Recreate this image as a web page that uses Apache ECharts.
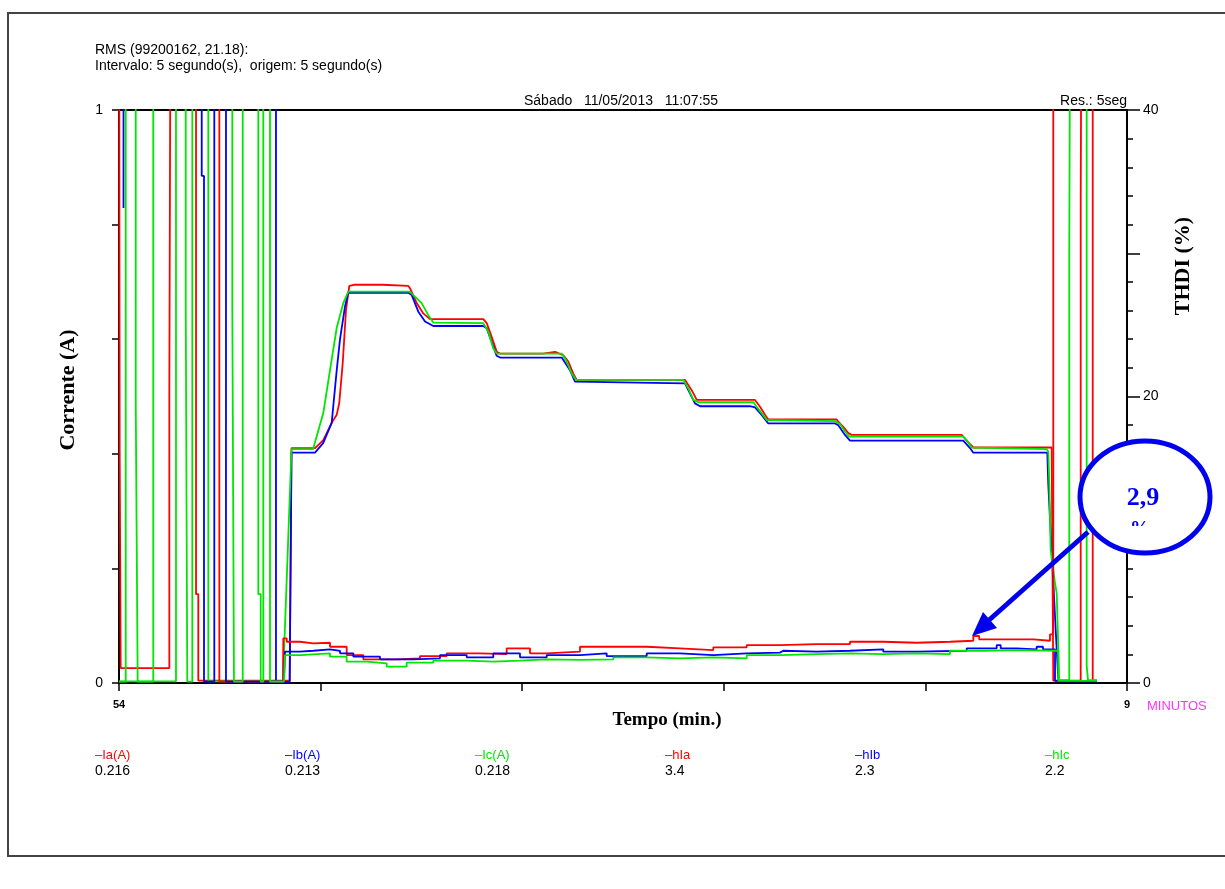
<!DOCTYPE html>
<html>
<head>
<meta charset="utf-8">
<title>RMS 99200162</title>
<script src="https://cdn.jsdelivr.net/npm/echarts@6.0.0/dist/echarts.min.js"></script>
<style>
  html, body { margin: 0; padding: 0; background: #fff; }
  #chart { width: 1225px; height: 889px; }
</style>
</head>
<body>
<div id="chart"></div>
<script>
// eixo x: minutos desde a origem (54 ... 9 => 15 min)
const xTickLabels = { 0: '54', 15: '9' }
const legendNames = ['Ia(A)', 'Ib(A)', 'Ic(A)', 'hIa', 'hIb', 'hIc']
const legendValues = ['0.216', '0.213', '0.218', '3.4', '2.3', '2.2']
const colors = ['#ff0000', '#0000ff', '#00e600', '#ff0000', '#0000ff', '#00e600']

// corrente (A) - [min, A]; valores > 1 ficam fora da escala
const ia = [
  [0, 1.5], [0.01, 1.5], [0.01, 0.408], [0.025, 0.408], [0.025, 0.026],
  [0.749, 0.026], [0.749, 0.511], [0.774, 0.511], [0.774, 1.5],
  [1.146, 1.5], [1.146, 0.155], [1.18, 0.155], [1.18, 0.004],
  [2.54, 0.004], [2.567, 0.410], [2.917, 0.410], [3.04, 0.424], [3.165, 0.454],
  [3.24, 0.468], [3.278, 0.489], [3.329, 0.558], [3.378, 0.651], [3.427, 0.693],
  [3.5, 0.695], [3.92, 0.695], [3.93, 0.693], [4.305, 0.693], [4.33, 0.689], [4.43, 0.663],
  [4.528, 0.645], [4.628, 0.635], [5.421, 0.635], [5.472, 0.628], [5.546, 0.604],
  [5.621, 0.578], [5.67, 0.575], [6.31, 0.575], [6.31, 0.578], [6.49, 0.578], [6.49, 0.575],
  [6.612, 0.572], [6.686, 0.561], [6.76, 0.540], [6.811, 0.529], [8.423, 0.529],
  [8.522, 0.511], [8.597, 0.494], [9.464, 0.494], [9.539, 0.482], [9.613, 0.468],
  [9.662, 0.460], [10.68, 0.460], [10.704, 0.456], [10.778, 0.447], [10.853, 0.436],
  [10.903, 0.433], [12.54, 0.433], [12.55, 0.436], [12.564, 0.430], [12.638, 0.420],
  [12.713, 0.411], [13.879, 0.411], [13.903, 0.004], [14.311, 0.004], [14.311, 0.834],
  [14.33, 0.834], [14.33, 1.5], [14.49, 1.5], [14.49, 0.004], [14.554, 0.004]
]
const ib = [
  [0.067, 0.829], [0.067, 1.5], [2.336, 1.5], [2.336, 0.002], [2.54, 0.002],
  [2.567, 0.402], [2.917, 0.402], [3.04, 0.419], [3.165, 0.454], [3.24, 0.546],
  [3.289, 0.600], [3.363, 0.657], [3.412, 0.681], [4.305, 0.681], [4.356, 0.677],
  [4.454, 0.648], [4.554, 0.631], [4.677, 0.623], [5.421, 0.623], [5.472, 0.619],
  [5.57, 0.587], [5.621, 0.571], [5.67, 0.568], [6.588, 0.568], [6.711, 0.546],
  [6.786, 0.526], [6.811, 0.523], [8.423, 0.523], [8.472, 0.511], [8.571, 0.488],
  [8.646, 0.483], [9.39, 0.483], [9.464, 0.481], [9.563, 0.468], [9.662, 0.453],
  [10.655, 0.453], [10.704, 0.450], [10.804, 0.433], [10.878, 0.423], [12.564, 0.423],
  [12.589, 0.421], [12.664, 0.410], [12.713, 0.402], [13.814, 0.402], [13.829, 0.346],
  [13.854, 0.287], [13.879, 0.232], [13.929, 0.116], [13.954, 0.058], [13.98, 0.003],
  [14.554, 0.003]
]
const ic = [
  [0, 0.003], [0.848, 0.003], [0.848, 1.5], [1.329, 1.5], [1.329, 0.003],
  [2.44, 0.003], [2.567, 0.408], [2.887, 0.408], [3.04, 0.471], [3.14, 0.546],
  [3.24, 0.620], [3.338, 0.663], [3.412, 0.683], [4.33, 0.683], [4.379, 0.677],
  [4.504, 0.663], [4.603, 0.642], [4.677, 0.629], [5.421, 0.628], [5.496, 0.613],
  [5.57, 0.584], [5.621, 0.575], [6.588, 0.575], [6.662, 0.561], [6.737, 0.540],
  [6.801, 0.529], [8.397, 0.529], [8.472, 0.514], [8.546, 0.494], [8.621, 0.490],
  [9.44, 0.490], [9.489, 0.482], [9.563, 0.471], [9.638, 0.459], [9.662, 0.457],
  [10.655, 0.457], [10.729, 0.452], [10.804, 0.439], [10.868, 0.430], [12.564, 0.430],
  [12.614, 0.424], [12.689, 0.411], [12.713, 0.408], [13.805, 0.408], [13.829, 0.404],
  [13.844, 0.349], [13.864, 0.232], [13.929, 0.174], [13.954, 0.157], [13.978, 0.058],
  [13.99, 0.005], [14.141, 0.005], [14.141, 0.75], [14.162, 0.75], [14.162, 1.5],
  [14.40, 1.5], [14.40, 0.03], [14.42, 0.03], [14.42, 0.005], [14.554, 0.005]
]

// THDI (%) - [min, %]; valores > 40 ficam fora da escala
const hia = [
  [0, 100], [1.493, 100], [1.493, 0.1], [2.44, 0.1], [2.445, 3.12], [2.496, 2.88],
  [2.693, 2.77], [2.892, 2.81], [3.14, 2.53], [3.388, 1.95], [3.636, 1.65], [3.884, 1.65],
  [4.132, 1.72], [4.479, 1.88], [4.876, 2.07], [5.372, 2.02], [5.769, 2.42], [6.116, 2.07],
  [6.365, 2.19], [6.86, 2.53], [7.356, 2.53], [7.853, 2.42], [8.348, 2.30], [8.844, 2.49],
  [9.341, 2.65], [9.836, 2.72], [10.382, 2.72], [10.878, 2.88], [11.373, 2.81],
  [11.871, 2.88], [12.366, 2.95], [12.713, 3.28], [12.8, 3.05], [13.11, 3.05],
  [13.606, 2.95], [13.854, 3.4], [13.903, 100], [14.6, 100]
]
const hib = [
  [0, 100], [1.231, 100], [1.231, 35.4], [1.265, 35.4], [1.265, 0.1], [1.418, 0.1],
  [1.418, 100], [1.592, 100], [1.592, 0.1], [2.455, 0.1], [2.47, 2.19], [2.693, 2.25],
  [2.892, 2.35], [3.14, 2.25], [3.289, 2.07], [3.487, 1.84], [3.884, 1.65], [4.38, 1.72],
  [4.777, 1.95], [5.174, 1.79], [5.57, 2.07], [5.967, 1.79], [6.365, 1.95], [6.86, 2.07],
  [7.257, 1.88], [7.853, 2.07], [8.348, 1.95], [8.844, 2.07], [9.341, 2.12], [9.836, 2.25],
  [9.885, 2.19], [10.382, 2.25], [10.878, 2.35], [11.373, 2.19], [11.871, 2.25],
  [12.615, 2.42], [13.061, 2.65], [13.12, 2.42], [13.359, 2.35], [13.656, 2.53],
  [13.75, 2.35], [13.929, 0.15], [14.554, 0.15]
]
const hic = [
  [0, 0.1], [0.1, 0.1], [0.1, 100], [0.249, 100], [0.249, 19.6], [0.278, 19.6],
  [0.278, 0.1], [0.51, 0.1], [0.51, 100], [0.993, 100], [0.993, 26.3], [1.016, 26.3],
  [1.016, 0.1], [1.091, 0.1], [1.091, 100], [1.686, 100], [1.686, 26.5], [1.711, 26.5],
  [1.711, 0.1], [1.841, 0.1], [1.841, 100], [2.073, 100], [2.073, 6.2], [2.109, 6.2],
  [2.109, 0.1], [2.147, 0.1], [2.147, 100], [2.247, 100], [2.247, 0.1], [2.455, 0.1],
  [2.47, 1.95], [2.693, 2.07], [3.14, 1.84], [3.388, 1.49], [3.686, 1.37], [3.984, 1.14],
  [4.281, 1.42], [4.677, 1.56], [5.174, 1.49], [5.57, 1.56], [5.967, 1.65], [6.365, 1.61],
  [6.86, 1.65], [7.356, 1.79], [7.853, 1.72], [8.348, 1.79], [8.844, 1.72], [9.341, 1.95],
  [9.836, 2.02], [10.382, 2.07], [10.878, 2.02], [11.373, 2.07], [11.871, 2.02],
  [12.366, 2.25], [12.862, 2.30], [13.359, 2.25], [13.978, 0.15], [14.554, 0.15]
]

const sans = '"Liberation Sans", Arial, sans-serif'
const serif = '"Liberation Serif", "Times New Roman", serif'

const chart = echarts.init(document.getElementById('chart'))

function lineSeries(name, data, color, axis, step) {
  return {
    name: name,
    type: 'line',
    data: data,
    yAxisIndex: axis,
    step: step ? 'end' : false,
    showSymbol: false,
    clip: true,
    color: color,
    lineStyle: { width: 1.8, color: color },
    emphasis: { disabled: true }
  }
}

const legendTexts = []
legendNames.forEach((n, i) => {
  legendTexts.push({
    type: 'text', x: 95 + 190 * i, y: 755,
    style: { text: '\u2013' + n, font: '13px ' + sans, fill: colors[i], textVerticalAlign: 'middle' }
  })
  legendTexts.push({
    type: 'text', x: 95 + 190 * i, y: 771,
    style: { text: legendValues[i], font: '14px ' + sans, fill: '#000', textVerticalAlign: 'middle' }
  })
})

chart.setOption({
  animation: false,
  grid: {
    left: 119, right: 98, top: 110, bottom: 206,
    show: true, borderColor: '#000', borderWidth: 2, backgroundColor: 'transparent'
  },
  xAxis: {
    type: 'value', min: 0, max: 15, interval: 3,
    axisLine: { show: true, onZero: false, lineStyle: { color: '#000', width: 2 } },
    axisTick: { show: true, length: 8, lineStyle: { color: '#000', width: 1.5 } },
    axisLabel: {
      margin: 16, fontSize: 11, fontWeight: 'bold', color: '#000', fontFamily: sans,
      formatter: (v) => xTickLabels[v] || ''
    },
    splitLine: { show: false }
  },
  yAxis: [
    {
      type: 'value', min: 0, max: 1, interval: 0.2, position: 'left',
      axisLine: { show: true, lineStyle: { color: '#000', width: 2 } },
      axisTick: { show: true, length: 7, lineStyle: { color: '#000', width: 1.5 } },
      axisLabel: {
        margin: 16, fontSize: 14, color: '#000', fontFamily: sans,
        formatter: (v) => (v === 0 || v === 1) ? String(v) : ''
      },
      splitLine: { show: false }
    },
    {
      type: 'value', min: 0, max: 40, interval: 10, position: 'right',
      axisLine: { show: true, lineStyle: { color: '#000', width: 2 } },
      axisTick: { show: true, length: 13, lineStyle: { color: '#000', width: 1.5 } },
      minorTick: { show: true, splitNumber: 5, length: 6, lineStyle: { color: '#000', width: 1.5 } },
      axisLabel: {
        margin: 16, fontSize: 14, color: '#000', fontFamily: sans,
        formatter: (v) => v % 20 === 0 ? String(v) : ''
      },
      splitLine: { show: false },
      minorSplitLine: { show: false }
    }
  ],
  series: [
    lineSeries('Ia(A)', ia, colors[0], 0, false),
    lineSeries('Ib(A)', ib, colors[1], 0, false),
    lineSeries('Ic(A)', ic, colors[2], 0, false),
    lineSeries('hIa', hia, colors[3], 1, true),
    lineSeries('hIb', hib, colors[4], 1, true),
    lineSeries('hIc', hic, colors[5], 1, true)
  ],
  graphic: [
    {
      type: 'rect', shape: { x: 8, y: 13, width: 1240, height: 843 },
      style: { fill: 'none', stroke: '#444', lineWidth: 2 }, silent: true
    },
    {
      type: 'text', x: 95, y: 50,
      style: { text: 'RMS (99200162, 21.18):', font: '14px ' + sans, fill: '#000', textVerticalAlign: 'middle' }
    },
    {
      type: 'text', x: 95, y: 66,
      style: { text: 'Intervalo: 5 segundo(s),  origem: 5 segundo(s)', font: '14px ' + sans, fill: '#000', textVerticalAlign: 'middle' }
    },
    {
      type: 'text', x: 524, y: 101,
      style: { text: 'S\u00e1bado   11/05/2013   11:07:55', font: '14px ' + sans, fill: '#000', textVerticalAlign: 'middle' }
    },
    {
      type: 'text', x: 1127, y: 101,
      style: { text: 'Res.: 5seg', font: '14px ' + sans, fill: '#000', textAlign: 'right', textVerticalAlign: 'middle' }
    },
    {
      type: 'text', x: 1147, y: 706,
      style: { text: 'MINUTOS', font: '13px ' + sans, fill: '#ff33ff', textVerticalAlign: 'middle' }
    },
    {
      type: 'text', x: 667, y: 720,
      style: { text: 'Tempo (min.)', font: 'bold 19px ' + serif, fill: '#000', textAlign: 'center', textVerticalAlign: 'middle' }
    },
    {
      type: 'text', x: 68, y: 390, rotation: Math.PI / 2,
      style: { text: 'Corrente (A)', font: 'bold 22px ' + serif, fill: '#000', textAlign: 'center', textVerticalAlign: 'middle' }
    },
    {
      type: 'text', x: 1183, y: 266, rotation: Math.PI / 2,
      style: { text: 'THDI (%)', font: 'bold 22px ' + serif, fill: '#000', textAlign: 'center', textVerticalAlign: 'middle' }
    },
    ...legendTexts,
    {
      type: 'line', z: 100,
      shape: { x1: 1088, y1: 532, x2: 988, y2: 621 },
      style: { stroke: '#0000ee', lineWidth: 5 }
    },
    {
      type: 'polygon', z: 100,
      shape: { points: [[972, 636], [997, 628], [983, 612]] },
      style: { fill: '#0000ee' }
    },
    {
      type: 'ellipse', z: 101,
      shape: { cx: 1145, cy: 497, rx: 65, ry: 56 },
      style: { fill: '#fff', stroke: '#0000ee', lineWidth: 5 }
    },
    {
      type: 'text', z: 102, x: 1143, y: 498,
      style: { text: '2,9', font: 'bold 26px ' + serif, fill: '#0000ee', textAlign: 'center', textVerticalAlign: 'middle' }
    },
    {
      type: 'text', z: 102, x: 1140, y: 530,
      style: { text: '%', font: 'bold 20px ' + serif, fill: '#0000ee', textAlign: 'center', textVerticalAlign: 'middle' }
    },
    {
      type: 'rect', z: 103, shape: { x: 1125, y: 526, width: 30, height: 16 },
      style: { fill: '#fff' }
    }
  ]
})
</script>
</body>
</html>
